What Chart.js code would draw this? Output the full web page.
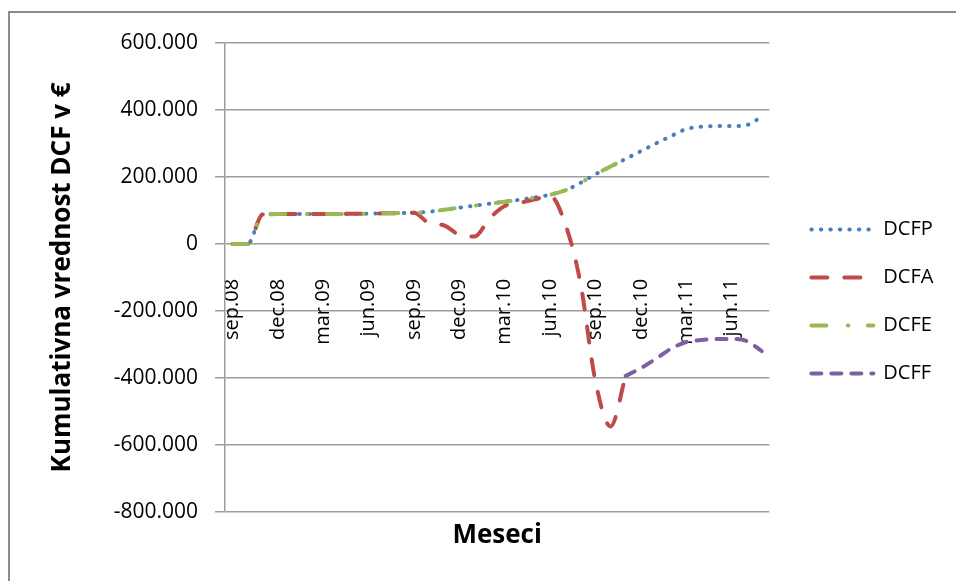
<!DOCTYPE html>
<html>
<head>
<meta charset="utf-8">
<script src="https://cdn.jsdelivr.net/npm/chart.js@4.4.1/dist/chart.umd.min.js"></script>
<style>
  html, body { margin: 0; padding: 0; background: #fff; }
  #wrap { position: relative; width: 956px; height: 581px; }
</style>
</head>
<body>
<div id="wrap"><canvas id="c" width="956" height="581"></canvas></div>
<script>
// Monthly categories, Sep 2008 – Aug 2011
const months = [
  'sep.08','okt.08','nov.08','dec.08','jan.09','feb.09','mar.09','apr.09','maj.09','jun.09','jul.09','avg.09',
  'sep.09','okt.09','nov.09','dec.09','jan.10','feb.10','mar.10','apr.10','maj.10','jun.10','jul.10','avg.10',
  'sep.10','okt.10','nov.10','dec.10','jan.11','feb.11','mar.11','apr.11','maj.11','jun.11','jul.11','avg.11'
];

// Cumulative DCF values in €
const dcfp = [
  0, 0, 88000, 89000, 89000, 89000, 89000, 89500, 90000, 90500, 91500, 92000,
  93000, 96000, 102000, 108000, 114000, 120000, 126000, 132000, 139000, 147000, 160000, 182000,
  208000, 231000, 254000, 277000, 300000, 322000, 343000, 350000, 352000, 352000, 355000, 380000
];
const dcfa = [
  0, 0, 88000, 89000, 89000, 89000, 89000, 89500, 90000, 90500, 91500, 92000,
  93000, 62000, 55000, 27000, 22000, 76000, 113000, 123000, 133000, 143000, 60000, -115000,
  -410000, -545000, -394000, null, null, null, null, null, null, null, null, null
];
const dcfe = [
  0, 0, 88000, 89000, 89000, 89000, 89000, 89500, 90000, 90500, 91500, 92000,
  93000, 96000, 102000, 108000, 114000, 120000, 126000, 132000, 139000, 147000, 160000, 182000,
  208000, 231000, 254000, null, null, null, null, null, null, null, null, null
];
const dcff = [
  null, null, null, null, null, null, null, null, null, null, null, null,
  null, null, null, null, null, null, null, null, null, null, null, null,
  null, null, -394000, -371000, -343000, -313000, -293000, -287000, -284000, -284000, -290000, -320000
];

// Y axis range
const yMin = -800000, yMax = 600000, yStep = 200000;

function fmtThousands(v) {
  const neg = v < 0;
  const s = String(Math.abs(Math.round(v))).replace(/\B(?=(\d{3})+(?!\d))/g, '.');
  return (neg ? '-' : '') + s;
}

const frame = {
  id: 'frame',
  beforeDraw(chart) {
    const ctx = chart.ctx;
    ctx.save();
    ctx.fillStyle = '#ffffff';
    ctx.fillRect(0, 0, chart.width, chart.height);
    ctx.strokeStyle = '#8c8c8c';
    ctx.lineWidth = 2;
    ctx.strokeRect(9, 12, 2000, 2000);
    ctx.restore();
  }
};

const gridColor = '#9d9d9d';
const lineWidth = 4;

// Legend samples drawn as short line segments in each series' own dash style
function legendItems(chart) {
  const base = Chart.defaults.plugins.legend.labels.generateLabels(chart);
  return base.map(item => {
    const ds = chart.data.datasets[item.datasetIndex];
    return Object.assign({}, item, {
      strokeStyle: ds.borderColor,
      fillStyle: ds.borderColor,
      lineWidth: lineWidth,
      lineDash: ds.borderDash,
      lineDashOffset: 0,
      lineCap: 'round',
      pointStyle: 'line'
    });
  }).sort((a, b) => a.datasetIndex - b.datasetIndex);
}

new Chart(document.getElementById('c'), {
  type: 'line',
  data: {
    labels: months,
    datasets: [
      { label: 'DCFP', data: dcfp, borderColor: '#4a7ebb', backgroundColor: '#4a7ebb',
        borderDash: [0.5, 9], borderCapStyle: 'round', order: 4 },
      { label: 'DCFA', data: dcfa, borderColor: '#be4b48', backgroundColor: '#be4b48',
        borderDash: [16, 17], borderCapStyle: 'round', order: 3 },
      { label: 'DCFE', data: dcfe, borderColor: '#98b954', backgroundColor: '#98b954',
        borderDash: [15, 21.5, 0.5, 19.5], borderCapStyle: 'round', order: 2 },
      { label: 'DCFF', data: dcff, borderColor: '#7d60a0', backgroundColor: '#7d60a0',
        borderDash: [10, 10], borderCapStyle: 'round', order: 1 }
    ]
  },
  options: {
    responsive: false,
    animation: false,
    devicePixelRatio: 1,
    layout: { padding: { left: 10, top: 43, right: 18, bottom: 21 } },
    elements: {
      line: { borderWidth: lineWidth, cubicInterpolationMode: 'monotone', fill: false },
      point: { radius: 0, hoverRadius: 0 }
    },
    plugins: {
      tooltip: { enabled: false },
      legend: {
        position: 'right',
        labels: {
          usePointStyle: true,
          pointStyle: 'line',
          pointStyleWidth: 62,
          padding: 28,
          color: '#000',
          font: { family: 'Open Sans', size: 20 },
          generateLabels: legendItems
        }
      },
      title: {
        display: true,
        text: 'Meseci',
        position: 'bottom',
        fullSize: false,
        color: '#000',
        font: { family: 'Open Sans', size: 26, weight: 'bold' },
        padding: { top: 8, bottom: 9 }
      }
    },
    scales: {
      x: {
        type: 'category',
        position: { y: 0 },
        offset: true,
        grid: { display: false, drawTicks: false },
        border: { display: false },
        ticks: {
          autoSkip: false,
          minRotation: 90,
          maxRotation: 90,
          padding: 35,
          color: '#000',
          font: { family: 'Open Sans', size: 20 },
          callback: (v, i) => (i % 3 === 0 ? months[i] : '')
        },
        afterFit(scale) { scale.height = 0; }
      },
      y: {
        position: 'left',
        min: yMin,
        max: yMax,
        grid: { color: gridColor, lineWidth: 1.5, tickLength: 10, drawTicks: true, tickColor: gridColor },
        border: { display: true, color: gridColor, width: 1.5 },
        ticks: {
          stepSize: yStep,
          padding: 17,
          color: '#000',
          font: { family: 'Open Sans', size: 21 },
          callback: (v) => fmtThousands(v)
        },
        title: {
          display: true,
          text: 'Kumulativna vrednost DCF v €',
          color: '#000',
          font: { family: 'Open Sans', size: 26, weight: 'bold' },
          padding: 37
        },
        afterFit(scale) { scale.width = 215; }
      },
      gap: {
        type: 'linear',
        position: 'right',
        display: true,
        grid: { display: false, drawTicks: false },
        border: { display: false },
        ticks: { display: false },
        afterFit(scale) { scale.width = 14; }
      }
    }
  },
  plugins: [frame]
});
</script>
</body>
</html>
